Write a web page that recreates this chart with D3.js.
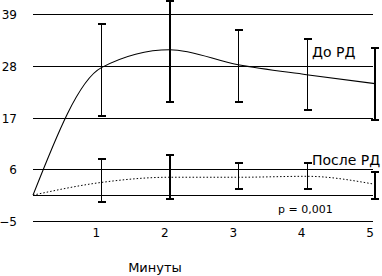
<!DOCTYPE html>
<html><head><meta charset="utf-8">
<script src="https://cdn.jsdelivr.net/npm/d3@7"></script>
<style>body{margin:0;background:#fff}svg{display:block}text{font-family:"DejaVu Sans",sans-serif;fill:#000}</style>
</head><body>
<script>
const minutes = [0, 1, 2, 3, 4, 5];
const beforeMean = [0.5, 27.6, 31.4, 28.2, 26.1, 24.2];
const beforeLow = [null, 17.4, 20.4, 20.4, 18.7, 16.4];
const beforeHigh = [null, 36.9, 41.7, 35.6, 33.7, 31.8];
const afterMean = [0.5, 3.2, 4.3, 4.3, 4.5, 2.8];
const afterLow = [null, -1.0, -0.4, 1.8, 1.8, -0.4];
const afterHigh = [null, 8.2, 9.0, 7.3, 7.3, 5.4];
const thickBars = [false, false, true, false, false, true];
const yTicks = [39, 28, 17, 6, -5];
const baseline = 0.5;
const xTickLabels = ["1", "2", "3", "4", "5"];

const W = 382, H = 276;
const svg = d3.select("body").append("svg").attr("width", W).attr("height", H);
const x = d3.scaleLinear().domain([0, 5]).range([33, 375]);
const y = d3.scaleLinear().domain([-5, 39]).range([221, 14]);

// gridlines
svg.selectAll("line.grid").data(yTicks.concat([baseline])).enter().append("line")
  .attr("x1", 33).attr("x2", 373)
  .attr("y1", d => Math.round(y(d)) + 0.5).attr("y2", d => Math.round(y(d)) + 0.5)
  .attr("stroke", "#000").attr("stroke-width", 1).attr("shape-rendering", "crispEdges");

// y labels
svg.selectAll("text.yl").data(yTicks).enter().append("text")
  .attr("x", 17).attr("y", d => y(d) + 5).attr("text-anchor", "end")
  .attr("font-size", 12).text(d => d < 0 ? "\u2212" + Math.abs(d) : d);

// x labels
svg.selectAll("text.xl").data(xTickLabels).enter().append("text")
  .attr("x", (d, i) => x(i + 1) - 5).attr("y", 237).attr("text-anchor", "middle")
  .attr("font-size", 12).text(d => d);

svg.append("text").attr("x", 155).attr("y", 272).attr("text-anchor", "middle")
  .attr("font-size", 13).text("Минуты");

// lines
const line = d3.line().x((d, i) => x(minutes[i])).y(d => y(d)).curve(d3.curveMonotoneX);
svg.append("path").attr("d", line(beforeMean)).attr("fill", "none").attr("stroke", "#000").attr("stroke-width", 1.1);
svg.append("path").attr("d", line(afterMean)).attr("fill", "none").attr("stroke", "#000").attr("stroke-width", 1).attr("stroke-dasharray", "1.5,2");

// error bars
function bars(low, high) {
  minutes.forEach((m, i) => {
    if (low[i] == null) return;
    const sw = thickBars[i] ? 2 : 1;
    const cx = Math.round(x(m)) + (thickBars[i] ? 0 : 0.5);
    const g = svg.append("g").attr("stroke", "#000").attr("stroke-width", sw).attr("shape-rendering", "crispEdges");
    g.append("line").attr("x1", cx).attr("x2", cx).attr("y1", y(high[i])).attr("y2", y(low[i]));
    g.append("line").attr("x1", cx - 4).attr("x2", cx + 4).attr("y1", y(high[i])).attr("y2", y(high[i])).attr("stroke-width", 2);
    g.append("line").attr("x1", cx - 4).attr("x2", cx + 4).attr("y1", y(low[i])).attr("y2", y(low[i])).attr("stroke-width", 2);
  });
}
bars(beforeLow, beforeHigh);
bars(afterLow, afterHigh);

svg.append("text").attr("x", 312).attr("y", 57).attr("font-size", 14).text("До РД");
svg.append("text").attr("x", 312).attr("y", 165).attr("font-size", 14).text("После РД");
svg.append("text").attr("x", 278).attr("y", 213).attr("font-size", 11).text("p = 0,001");
</script>
</body></html>
